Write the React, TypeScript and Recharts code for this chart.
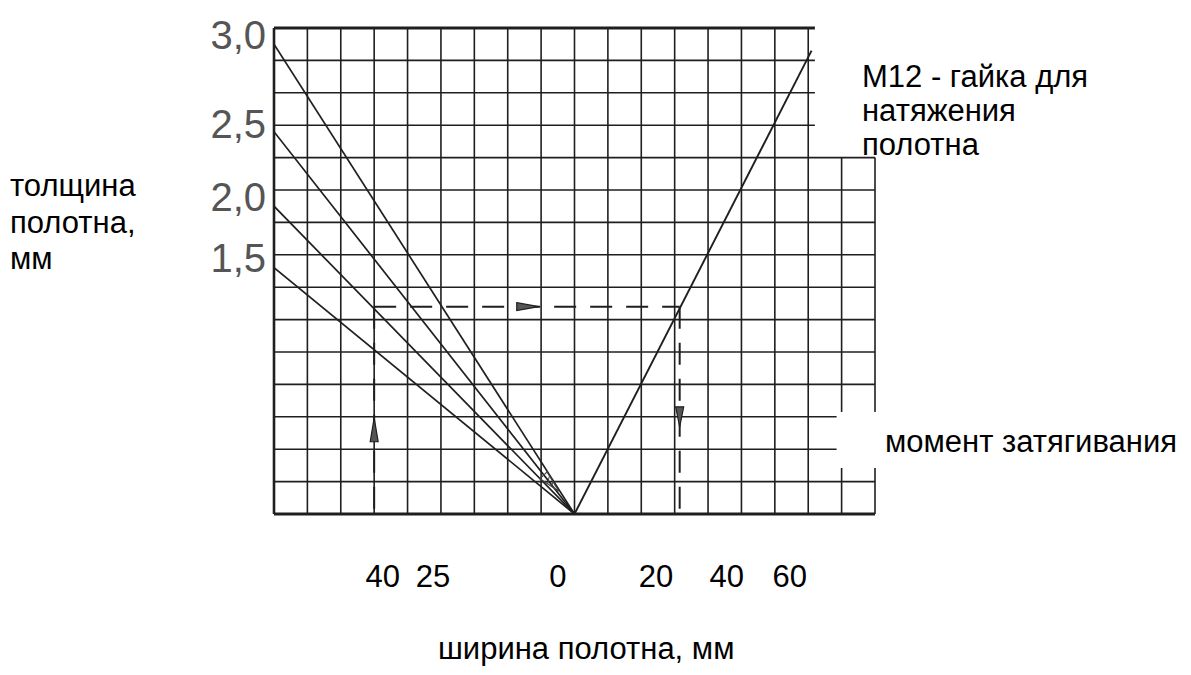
import { LineChart, Line, XAxis, YAxis, ReferenceLine, ReferenceDot } from "recharts";

// nomogram grid, in cell units (18 columns x 15 rows)
const gridCols = [0, 1, 2, 3, 4, 5, 6, 7, 8, 9, 10, 11, 12, 13, 14, 15, 16, 17, 18];
const gridRows = [0, 1, 2, 3, 4, 5, 6, 7, 8, 9, 10, 11, 12, 13, 14, 15];

// blade thickness (left scale)
const thicknessLabels = ["3,0", "2,5", "2,0", "1,5"];
const thicknessTickRows = [14.8, 12.05, 9.8, 7.9];
const fanStartRows = [14.5, 11.8, 9.5, 7.6];

// common pivot and M12 line
const pivot = { x: 9, y: 0 };
const m12Top = { x: 16.1, y: 14.3 };

// blade width (bottom scale)
const widthLabels = ["40", "25", "0", "20", "40", "60"];
const widthTickCols = [3.26, 4.76, 8.5, 11.44, 13.56, 15.45];

// worked example (dashed path)
const exampleRow = 6.4;
const exampleLeftCol = 3.0;
const exampleRightCol = 12.15;

const W = 1191;
const H = 675;
const ink = "#1f1f1f";
const textFont = "'Liberation Sans', Arial, sans-serif";

// where the scanned grid is cut by the label boxes
const colTop = (c: number) => (c <= 16 ? 15 : 11);
const rowRight = (r: number) => (r > 11 ? 16.2 : r === 2 || r === 3 ? 16.85 : 18);

const fanLines = fanStartRows.map((r) => [{ x: 0, y: r }, pivot]);
const m12Line = [pivot, m12Top];
const dashH = [{ x: exampleLeftCol, y: exampleRow }, { x: exampleRightCol, y: exampleRow }];
const dashL = [{ x: exampleLeftCol, y: exampleRow }, { x: exampleLeftCol, y: 0 }];
const dashR = [{ x: exampleRightCol, y: exampleRow }, { x: exampleRightCol, y: 0 }];

type Dir = "up" | "down" | "right" | "diag";

const Arrow = ({ cx, cy, dir }: { cx?: number; cy?: number; dir: Dir }) => {
  if (cx == null || cy == null) return null;
  if (dir === "diag") {
    // small hatched arrow pointing to the pivot
    return (
      <g transform={`translate(${cx},${cy}) rotate(46)`}>
        <polygon points="-11,-5 11,0 -11,5" fill="none" stroke="#444" strokeWidth={1.2} />
        <line x1={-6} y1={-3} x2={-2} y2={3} stroke="#444" strokeWidth={1} />
        <line x1={0} y1={-2} x2={3} y2={2} stroke="#444" strokeWidth={1} />
      </g>
    );
  }
  let pts = "";
  if (dir === "right") pts = `${cx - 11},${cy - 4} ${cx + 11},${cy} ${cx - 11},${cy + 4}`;
  if (dir === "up") pts = `${cx - 4},${cy + 12} ${cx},${cy - 12} ${cx + 4},${cy + 12}`;
  if (dir === "down") pts = `${cx - 4},${cy - 10} ${cx},${cy + 10} ${cx + 4},${cy - 10}`;
  return <polygon points={pts} fill="#555" stroke={ink} strokeWidth={1.2} />;
};

export default function App() {
  return (
    <div style={{ position: "absolute", left: 0, top: 0, width: W, height: H, background: "#fff", fontFamily: textFont }}>
      <LineChart width={W} height={H} margin={{ top: 28, right: 316, left: 0, bottom: 0 }}>
        <XAxis
          type="number"
          dataKey="x"
          domain={[0, 18]}
          ticks={widthTickCols}
          interval={0}
          tickFormatter={(_v: number, i: number) => widthLabels[i]}
          axisLine={false}
          tickLine={false}
          tickSize={0}
          tickMargin={51}
          height={161}
          allowDataOverflow
          tick={{ fontSize: 31, fill: "#000", fontFamily: textFont }}
        />
        <YAxis
          type="number"
          dataKey="y"
          domain={[0, 15]}
          ticks={thicknessTickRows}
          interval={0}
          tickFormatter={(_v: number, i: number) => thicknessLabels[i]}
          axisLine={false}
          tickLine={false}
          tickSize={0}
          tickMargin={8}
          width={274}
          allowDataOverflow
          tick={{ fontSize: 40, fill: "#555", fontFamily: "'Liberation Sans Narrow', 'Liberation Sans', sans-serif" }}
        />

        {gridCols.map((c) => (
          <ReferenceLine
            key={`c${c}`}
            segment={[{ x: c, y: 0 }, { x: c, y: colTop(c) }]}
            stroke={ink}
            strokeWidth={c === 0 ? 2.6 : 1.6}
          />
        ))}
        {gridCols
          .filter((c) => c >= 17)
          .map((c) => (
            <ReferenceLine key={`cc${c}`} segment={[{ x: c, y: 1.42 }, { x: c, y: 3.15 }]} stroke="#fff" strokeWidth={4} />
          ))}
        {gridRows.map((r) => (
          <ReferenceLine
            key={`r${r}`}
            segment={[{ x: 0, y: r }, { x: rowRight(r), y: r }]}
            stroke={ink}
            strokeWidth={r === 0 || r === 15 ? 2.8 : 1.6}
          />
        ))}

        {fanLines.map((d, i) => (
          <Line key={`f${i}`} data={d} dataKey="y" stroke={ink} strokeWidth={1.7} dot={false} isAnimationActive={false} />
        ))}
        <Line data={m12Line} dataKey="y" stroke={ink} strokeWidth={1.9} dot={false} isAnimationActive={false} />
        {[dashH, dashL, dashR].map((d, i) => (
          <Line
            key={`d${i}`}
            data={d}
            dataKey="y"
            stroke={ink}
            strokeWidth={2}
            strokeDasharray="22 14"
            dot={false}
            isAnimationActive={false}
          />
        ))}

        <ReferenceDot x={7.6} y={exampleRow} r={0} shape={(p: any) => <Arrow cx={p.cx} cy={p.cy} dir="right" />} />
        <ReferenceDot x={exampleLeftCol} y={2.6} r={0} shape={(p: any) => <Arrow cx={p.cx} cy={p.cy} dir="up" />} />
        <ReferenceDot x={exampleRightCol} y={3.0} r={0} shape={(p: any) => <Arrow cx={p.cx} cy={p.cy} dir="down" />} />
        <ReferenceDot x={8.3} y={0.95} r={0} shape={(p: any) => <Arrow cx={p.cx} cy={p.cy} dir="diag" />} />
      </LineChart>

      <div style={{ position: "absolute", left: 10, top: 168, fontSize: 31, lineHeight: "36.5px", color: "#000" }}>
        толщина
        <br />
        полотна,
        <br />
        мм
      </div>
      <div style={{ position: "absolute", left: 862, top: 60, fontSize: 31, lineHeight: "34px", color: "#000", whiteSpace: "nowrap" }}>
        M12 - гайка для
        <br />
        натяжения
        <br />
        полотна
      </div>
      <div style={{ position: "absolute", left: 885, top: 424, fontSize: 31, lineHeight: "36px", color: "#000", whiteSpace: "nowrap" }}>
        момент затягивания
      </div>
      <div style={{ position: "absolute", left: 438, top: 631, fontSize: 31, lineHeight: "36px", color: "#000", whiteSpace: "nowrap" }}>
        ширина полотна, мм
      </div>
    </div>
  );
}
